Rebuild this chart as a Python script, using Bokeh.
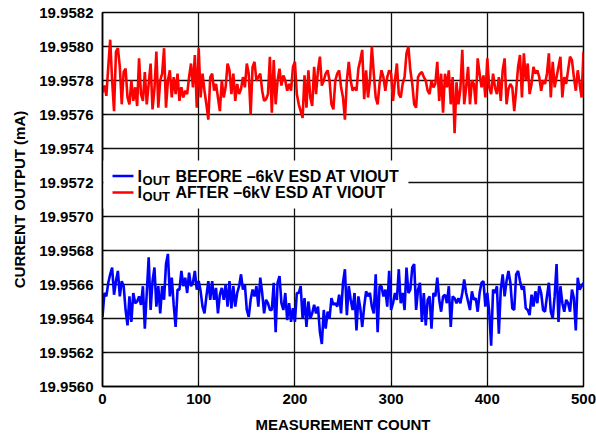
from bokeh.plotting import figure
from bokeh.models import FixedTicker, NumeralTickFormatter, BoxAnnotation, Label, Range1d
from bokeh.embed import file_html
from bokeh.resources import INLINE

# ---------------- data ----------------
MEASUREMENT_COUNT = list(range(0, 501, 2))

IOUT_AFTER = [
    19.95773, 19.95777, 19.95771, 19.95788, 19.95804, 19.95780, 19.95762, 19.95797, 19.95799, 19.95788,
    19.95766, 19.95785, 19.95787, 19.95770, 19.95766, 19.95780, 19.95768, 19.95776, 19.95765, 19.95793,
    19.95772, 19.95768, 19.95785, 19.95766, 19.95778, 19.95790, 19.95763, 19.95775, 19.95797, 19.95764,
    19.95780, 19.95784, 19.95799, 19.95764, 19.95780, 19.95786, 19.95770, 19.95782, 19.95772, 19.95784,
    19.95768, 19.95776, 19.95770, 19.95774, 19.95772, 19.95782, 19.95790, 19.95776, 19.95795, 19.95764,
    19.95799, 19.95770, 19.95784, 19.95774, 19.95766, 19.95757, 19.95782, 19.95784, 19.95774, 19.95778,
    19.95770, 19.95762, 19.95780, 19.95770, 19.95776, 19.95790, 19.95786, 19.95772, 19.95784, 19.95768,
    19.95778, 19.95772, 19.95775, 19.95782, 19.95776, 19.95790, 19.95784, 19.95760, 19.95788, 19.95791,
    19.95780, 19.95782, 19.95784, 19.95774, 19.95768,
    19.95769, 19.95772, 19.95794, 19.95761, 19.95792, 19.95766, 19.95780, 19.95787, 19.95777, 19.95783,
    19.95780, 19.95774, 19.95778, 19.95774, 19.95788, 19.95791, 19.95772, 19.95766, 19.95762, 19.95758,
    19.95783, 19.95764, 19.95786, 19.95770, 19.95765, 19.95788, 19.95772, 19.95786, 19.95794, 19.95777,
    19.95780, 19.95784, 19.95786, 19.95780, 19.95766, 19.95763, 19.95780, 19.95784, 19.95786, 19.95776,
    19.95770, 19.95757, 19.95780, 19.95791, 19.95780, 19.95774, 19.95776, 19.95774, 19.95787, 19.95792,
    19.95798, 19.95769, 19.95786, 19.95770, 19.95780, 19.95800, 19.95784, 19.95770, 19.95766, 19.95778,
    19.95786, 19.95782, 19.95774, 19.95782, 19.95786, 19.95784, 19.95768, 19.95780, 19.95790, 19.95772,
    19.95770, 19.95778, 19.95782, 19.95796, 19.95800, 19.95786, 19.95778, 19.95766, 19.95764, 19.95782,
    19.95784, 19.95785, 19.95782, 19.95780, 19.95774, 19.95772, 19.95780, 19.95776, 19.95778,
    19.95791, 19.95768, 19.95784, 19.95761, 19.95784, 19.95776, 19.95786, 19.95766, 19.95782, 19.95749,
    19.95779, 19.95766, 19.95775, 19.95798, 19.95766, 19.95776, 19.95788, 19.95766, 19.95780, 19.95778,
    19.95766, 19.95793, 19.95784, 19.95776, 19.95783, 19.95770, 19.95793, 19.95776, 19.95772, 19.95784,
    19.95776, 19.95772, 19.95782, 19.95768, 19.95786, 19.95793, 19.95766, 19.95775, 19.95778, 19.95776,
    19.95762, 19.95774, 19.95788, 19.95795, 19.95770, 19.95796, 19.95780, 19.95790, 19.95772, 19.95778,
    19.95788, 19.95784, 19.95786, 19.95782, 19.95774, 19.95780, 19.95778, 19.95784, 19.95796, 19.95770,
    19.95791, 19.95776, 19.95782, 19.95788, 19.95794, 19.95770, 19.95782, 19.95778, 19.95786, 19.95794,
    19.95792, 19.95782, 19.95774, 19.95786, 19.95778, 19.95770, 19.95797,
]

IOUT_BEFORE = [
    19.95641, 19.95655, 19.95653, 19.95661, 19.95666, 19.95670, 19.95654, 19.95662, 19.95668, 19.95653,
    19.95662, 19.95659, 19.95645, 19.95636, 19.95653, 19.95638, 19.95655, 19.95649, 19.95650, 19.95653,
    19.95648, 19.95659, 19.95634, 19.95655, 19.95676, 19.95645, 19.95662, 19.95670, 19.95647, 19.95659,
    19.95643, 19.95659, 19.95651, 19.95672, 19.95678, 19.95653, 19.95664, 19.95648, 19.95635, 19.95657,
    19.95657, 19.95668, 19.95659, 19.95664, 19.95655, 19.95667, 19.95659, 19.95661, 19.95668, 19.95657,
    19.95662, 19.95656, 19.95647, 19.95643, 19.95653, 19.95662, 19.95651, 19.95662, 19.95651, 19.95658,
    19.95643, 19.95654, 19.95658, 19.95651, 19.95660, 19.95647, 19.95662, 19.95646, 19.95659, 19.95647,
    19.95655, 19.95659, 19.95666, 19.95657, 19.95660, 19.95645, 19.95641, 19.95651, 19.95657, 19.95653,
    19.95659, 19.95647, 19.95664, 19.95655, 19.95643,
    19.95651, 19.95649, 19.95645, 19.95645, 19.95661, 19.95632, 19.95661, 19.95665, 19.95649, 19.95645,
    19.95655, 19.95639, 19.95649, 19.95638, 19.95646, 19.95638, 19.95655, 19.95655, 19.95659, 19.95640,
    19.95652, 19.95635, 19.95650, 19.95640, 19.95643, 19.95648, 19.95643, 19.95647, 19.95632, 19.95625,
    19.95645, 19.95634, 19.95644, 19.95640, 19.95652, 19.95648, 19.95649, 19.95647, 19.95654, 19.95643,
    19.95661, 19.95669, 19.95642, 19.95659, 19.95651, 19.95645, 19.95655, 19.95633, 19.95653, 19.95646,
    19.95635, 19.95647, 19.95656, 19.95653, 19.95655, 19.95647, 19.95643, 19.95666, 19.95632, 19.95659,
    19.95659, 19.95653, 19.95657, 19.95647, 19.95668, 19.95645, 19.95649, 19.95655, 19.95651, 19.95669,
    19.95649, 19.95655, 19.95645, 19.95670, 19.95655, 19.95657, 19.95670, 19.95672, 19.95645, 19.95657,
    19.95661, 19.95638, 19.95655, 19.95636, 19.95651, 19.95653, 19.95634, 19.95655, 19.95653,
    19.95664, 19.95651, 19.95644, 19.95653, 19.95654, 19.95649, 19.95659, 19.95635, 19.95653, 19.95652,
    19.95649, 19.95652, 19.95649, 19.95655, 19.95663, 19.95655, 19.95650, 19.95645, 19.95656, 19.95651,
    19.95652, 19.95644, 19.95655, 19.95661, 19.95662, 19.95647, 19.95655, 19.95644, 19.95624, 19.95657,
    19.95655, 19.95659, 19.95631, 19.95657, 19.95666, 19.95653, 19.95662, 19.95668, 19.95661, 19.95646,
    19.95645, 19.95666, 19.95668, 19.95662, 19.95657, 19.95659, 19.95646, 19.95645, 19.95642, 19.95654,
    19.95647, 19.95656, 19.95649, 19.95659, 19.95655, 19.95645, 19.95644, 19.95653, 19.95661, 19.95644,
    19.95640, 19.95653, 19.95672, 19.95638, 19.95659, 19.95649, 19.95644, 19.95651, 19.95649, 19.95644,
    19.95657, 19.95652, 19.95633, 19.95664, 19.95657, 19.95659, 19.95661,
]

X_TICKS = [0, 100, 200, 300, 400, 500]
Y_TICKS = [19.9560, 19.9562, 19.9564, 19.9566, 19.9568, 19.9570,
           19.9572, 19.9574, 19.9576, 19.9578, 19.9580, 19.9582]
SERIES_NAMES = ["BEFORE \u20136kV ESD AT VIOUT", "AFTER \u20136kV ESD AT VIOUT"]
SERIES_COLORS = ["#0000ff", "#ff0000"]
X_LABEL = "MEASUREMENT COUNT"
Y_LABEL = "CURRENT OUTPUT (mA)"

FONT = "Liberation Sans"

p = figure(width=596, height=444, output_backend="svg", toolbar_location=None,
           x_range=Range1d(0, 500), y_range=Range1d(19.9560, 19.9582),
           min_border_left=102, min_border_right=13, min_border_top=12,
           min_border_bottom=58, background_fill_color="white",
           border_fill_color="white")

p.outline_line_color = "black"
p.outline_line_width = 1.5
p.outline_line_alpha = 1.0

for ax in (p.xaxis[0], p.yaxis[0]):
    ax.axis_line_color = "black"
    ax.axis_line_width = 1.5
    ax.major_tick_in = 4
    ax.major_tick_out = 0
    ax.major_tick_line_color = "black"
    ax.major_tick_line_width = 1
    ax.minor_tick_line_color = None
    ax.major_label_text_font = FONT
    ax.major_label_text_font_style = "bold"
    ax.major_label_text_font_size = "15px"
    ax.major_label_text_color = "black"
    ax.axis_label_text_font = FONT
    ax.axis_label_text_font_style = "bold"
    ax.axis_label_text_font_size = "15px"
    ax.axis_label_text_color = "black"

p.xaxis.ticker = FixedTicker(ticks=X_TICKS)
p.yaxis.ticker = FixedTicker(ticks=Y_TICKS)
p.yaxis.formatter = NumeralTickFormatter(format="0.0000")
p.xaxis.axis_label = X_LABEL
p.yaxis.axis_label = Y_LABEL
p.xaxis.major_label_standoff = 7
p.yaxis.major_label_standoff = 9
p.xaxis.axis_label_standoff = 9
p.yaxis.axis_label_standoff = 8

p.xgrid.ticker = FixedTicker(ticks=X_TICKS)
p.ygrid.ticker = FixedTicker(ticks=Y_TICKS)
for g in (p.xgrid[0], p.ygrid[0]):
    g.grid_line_color = "#111111"
    g.grid_line_width = 1.3
    g.grid_line_alpha = 1.0

p.line(MEASUREMENT_COUNT, IOUT_AFTER, line_color=SERIES_COLORS[1], line_width=2.6)
p.line(MEASUREMENT_COUNT, IOUT_BEFORE, line_color=SERIES_COLORS[0], line_width=2.6)

# ---------------- legend (drawn by hand to get the subscript) ----------------
p.add_layout(BoxAnnotation(left=1.0, right=318, bottom=19.957047, top=19.957329,
                           fill_color="white", fill_alpha=1.0, line_color=None,
                           line_alpha=0))

row_line = [19.957238, 19.957141]
SUB_DROP = 0.0000235
for i in range(2):
    p.add_layout(BoxAnnotation(left=10.4, right=32.2,
                               bottom=row_line[i] - 0.0000075, top=row_line[i] + 0.0000075,
                               fill_color=SERIES_COLORS[i], fill_alpha=1.0,
                               line_color=None, line_alpha=0))
    p.add_layout(Label(x=36.4, y=row_line[i], text="I", text_font=FONT,
                       text_font_style="bold", text_font_size="16px",
                       text_color="black", text_baseline="middle"))
    p.add_layout(Label(x=41.6, y=row_line[i] - SUB_DROP, text="OUT", text_font=FONT,
                       text_font_style="bold", text_font_size="13px",
                       text_color="black", text_baseline="middle"))
    p.add_layout(Label(x=75.9, y=row_line[i], text=SERIES_NAMES[i], text_font=FONT,
                       text_font_style="bold", text_font_size="16px",
                       text_color="black", text_baseline="middle"))

open("out.html", "w").write(file_html(p, INLINE))
